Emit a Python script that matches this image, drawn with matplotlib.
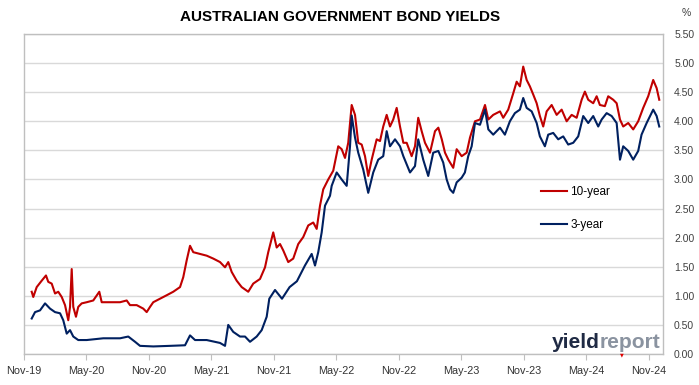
import matplotlib
matplotlib.use("Agg")
import matplotlib.pyplot as plt
from matplotlib.ticker import FixedLocator, FormatStrFormatter

# months since Nov-2019
ten_year_months = [0.74, 0.89, 1.22, 1.70, 2.11, 2.33, 2.66, 2.98, 3.29, 3.62, 3.94, 4.25, 4.42, 4.58, 4.73,
                   4.99, 5.21, 5.54, 6.02, 6.65, 7.23, 7.46, 8.26, 9.22, 9.86, 10.18, 10.82, 11.45, 11.78,
                   12.10, 12.41, 13.06, 13.70, 14.33, 14.98, 15.29, 15.62, 15.94, 16.25, 16.90, 17.54,
                   18.17, 18.82, 19.30, 19.61, 19.94, 20.42, 20.90, 21.53, 22.01, 22.66, 23.14, 23.45,
                   23.93, 24.26, 24.58, 24.89, 25.37, 25.85, 26.33, 26.81, 27.29, 27.77, 28.10, 28.42,
                   28.73, 29.21, 29.69, 30.17, 30.50, 30.82, 31.13, 31.46, 31.78, 32.09, 32.42, 32.74,
                   33.05, 33.38, 33.86, 34.18, 34.49, 34.82, 35.14, 35.45, 35.78, 36.10, 36.42, 36.74,
                   37.22, 37.54, 37.85, 38.18, 38.50, 38.98, 39.46, 39.78, 40.11, 40.42, 40.74, 41.21,
                   41.54, 42.02, 42.50, 42.82, 43.30, 43.78, 44.26, 44.58, 45.05, 45.70, 46.01, 46.49,
                   46.97, 47.30, 47.61, 47.93, 48.26, 48.57, 48.89, 49.22, 49.53, 49.85, 50.18, 50.66,
                   51.14, 51.62, 52.10, 52.58, 53.06, 53.54, 53.85, 54.17, 54.65, 54.98, 55.29, 55.77,
                   56.09, 56.57, 56.90, 57.22, 57.53, 58.01, 58.49, 58.97, 59.45, 59.93, 60.41, 60.74, 60.99]
ten_year = [1.07, 0.98, 1.15, 1.26, 1.35, 1.24, 1.21, 1.04, 1.07, 0.98, 0.84, 0.58, 0.81, 1.46, 0.81,
            0.64, 0.81, 0.87, 0.89, 0.92, 1.07, 0.89, 0.89, 0.89, 0.92, 0.84, 0.84, 0.78, 0.72,
            0.81, 0.89, 0.95, 1.01, 1.07, 1.15, 1.32, 1.61, 1.86, 1.75, 1.72, 1.69,
            1.64, 1.58, 1.49, 1.58, 1.41, 1.26, 1.15, 1.07, 1.21, 1.29, 1.49, 1.75,
            2.09, 1.83, 1.89, 1.78, 1.58, 1.64, 1.89, 2.01, 2.21, 2.26, 2.15, 2.55,
            2.83, 3.00, 3.15, 3.57, 3.52, 3.37, 3.63, 4.28, 4.11, 3.63, 3.60, 3.40,
            3.06, 3.34, 3.69, 3.66, 3.91, 4.11, 3.91, 4.03, 4.23, 3.91, 3.63, 3.63,
            3.40, 3.57, 4.06, 3.83, 3.63, 3.46, 3.83, 3.89, 3.69, 3.46, 3.34, 3.20,
            3.52, 3.40, 3.46, 3.72, 4.00, 4.03, 4.28, 4.03, 4.11, 4.17, 4.06, 4.20,
            4.48, 4.68, 4.60, 4.94, 4.71, 4.60, 4.46, 4.31, 4.09, 3.91, 4.17, 4.28,
            4.11, 4.20, 4.00, 4.11, 4.06, 4.37, 4.51, 4.37, 4.31, 4.43, 4.28, 4.26,
            4.43, 4.37, 4.31, 4.03, 3.91, 3.97, 3.86, 4.00, 4.23, 4.43, 4.71, 4.57, 4.37]

three_year_months = [0.74, 1.06, 1.54, 2.02, 2.50, 2.98, 3.46, 3.77, 4.10, 4.42, 4.73, 5.21, 6.02, 7.61,
                     9.22, 10.01, 10.66, 11.14, 12.41, 14.02, 15.46, 15.94, 16.42, 17.54, 18.82, 19.30,
                     19.61, 20.09, 20.74, 21.22, 21.70, 22.34, 22.82, 23.30, 23.55, 24.10, 24.77, 25.50,
                     26.20, 26.97, 27.62, 27.94, 28.25, 28.58, 28.90, 29.38, 29.54, 30.02, 30.50, 30.98,
                     31.30, 31.46, 31.78, 32.09, 32.57, 33.05, 33.53, 34.01, 34.49, 34.82, 35.14, 35.62,
                     36.10, 36.42, 37.06, 37.54, 37.85, 38.33, 38.81, 39.29, 39.78, 40.25, 40.58, 40.90,
                     41.21, 41.54, 42.02, 42.33, 42.65, 42.98, 43.30, 43.78, 44.26, 44.58, 45.05, 45.70,
                     46.17, 46.65, 47.13, 47.61, 47.93, 48.26, 48.74, 49.22, 49.53, 50.01, 50.33, 50.81,
                     51.29, 51.77, 52.25, 52.73, 53.21, 53.69, 54.17, 54.65, 55.13, 55.46, 55.94, 56.42,
                     56.90, 57.22, 57.53, 58.01, 58.49, 58.97, 59.29, 59.78, 60.41, 60.74, 60.99]
three_year = [0.61, 0.72, 0.75, 0.87, 0.78, 0.72, 0.70, 0.58, 0.35, 0.41, 0.30, 0.24, 0.24, 0.27,
              0.27, 0.30, 0.21, 0.14, 0.13, 0.14, 0.15, 0.32, 0.24, 0.24, 0.19, 0.14,
              0.50, 0.38, 0.30, 0.30, 0.21, 0.30, 0.41, 0.64, 0.95, 1.10, 0.95, 1.15,
              1.25, 1.52, 1.72, 1.52, 1.75, 2.09, 2.55, 2.72, 2.89, 3.12, 3.00, 2.89,
              3.57, 4.10, 3.72, 3.46, 3.17, 2.77, 3.12, 3.34, 3.40, 3.83, 3.57, 3.69,
              3.57, 3.40, 3.12, 3.23, 3.69, 3.34, 3.06, 3.46, 3.49, 3.29, 3.00, 2.83,
              2.77, 2.95, 3.03, 3.12, 3.40, 3.57, 3.97, 3.94, 4.20, 3.86, 3.77, 3.89,
              3.77, 4.00, 4.14, 4.20, 4.40, 4.23, 4.17, 3.97, 3.74, 3.57, 3.77, 3.80,
              3.69, 3.74, 3.60, 3.63, 3.74, 4.09, 3.97, 4.09, 3.91, 4.03, 4.14, 4.09,
              3.97, 3.34, 3.57, 3.49, 3.34, 3.49, 3.77, 3.97, 4.20, 4.09, 3.91]

tick_months = [0, 6, 12, 18, 24, 30, 36, 42, 48, 54, 60]
tick_labels = ["Nov-19", "May-20", "Nov-20", "May-21", "Nov-21", "May-22",
               "Nov-22", "May-23", "Nov-23", "May-24", "Nov-24"]
y_ticks = [0.0, 0.5, 1.0, 1.5, 2.0, 2.5, 3.0, 3.5, 4.0, 4.5, 5.0, 5.5]

RED = "#C00000"
NAVY = "#002060"
plt.rcParams["font.family"] = ["Liberation Sans", "DejaVu Sans"]

W, H = 699, 385
fig = plt.figure(figsize=(W / 100, H / 100), dpi=100)
ax = fig.add_axes([24 / W, 1 - 354 / H, (663 - 24) / W, (354 - 34) / H])

ax.plot(ten_year_months, ten_year, color=RED, lw=1.5, label="10-year", zorder=3)
ax.plot(three_year_months, three_year, color=NAVY, lw=1.5, label="3-year", zorder=3)

ax.set_xlim(0, 61.35)
ax.set_ylim(0, 5.5)
ax.xaxis.set_major_locator(FixedLocator(tick_months))
ax.set_xticklabels(tick_labels)
ax.yaxis.set_major_locator(FixedLocator(y_ticks))
ax.yaxis.set_major_formatter(FormatStrFormatter("%.2f"))
ax.yaxis.tick_right()
ax.tick_params(axis="y", length=0, pad=8, labelsize=7.5, labelcolor="#404040")
ax.tick_params(axis="x", length=4, width=0.8, color="#bfbfbf", pad=5, labelsize=7.8, labelcolor="#333333")
ax.grid(axis="y", color="#d9d9d9", lw=1)
ax.set_axisbelow(True)
for s in ax.spines.values():
    s.set_color("#bfbfbf")
    s.set_linewidth(1)

fig.text(340 / W, 1 - 17 / H, "AUSTRALIAN GOVERNMENT BOND YIELDS", ha="center", va="center",
         fontsize=11, fontweight="bold", color="#000000")
fig.text(686 / W, 1 - 13 / H, "%", ha="center", va="center", fontsize=7.5, color="#404040")

ax.legend(loc="upper left", bbox_to_anchor=(541 / W, 1 - 186 / H), bbox_transform=fig.transFigure,
          frameon=False, fontsize=8.5, handlelength=2.2, handletextpad=0.3, labelspacing=1.75,
          borderpad=0, borderaxespad=0)

# logo
t1 = fig.text(552 / W, 1 - 342 / H, "yield", ha="left", va="center", fontsize=15, fontweight="bold",
              color="#1f2a44", zorder=5)
fig.canvas.draw()
bb = t1.get_window_extent(fig.canvas.get_renderer())
fig.text(bb.x1 / W, 1 - 342 / H, "report", ha="left", va="center", fontsize=15, fontweight="bold",
         color="#8a93a0", zorder=5)
fig.text(622 / W, 1 - 355 / H, "\u25BC", ha="center", va="center", fontsize=3.5, color="#e00000",
         family="DejaVu Sans")

fig.savefig("out.png", dpi=100)
